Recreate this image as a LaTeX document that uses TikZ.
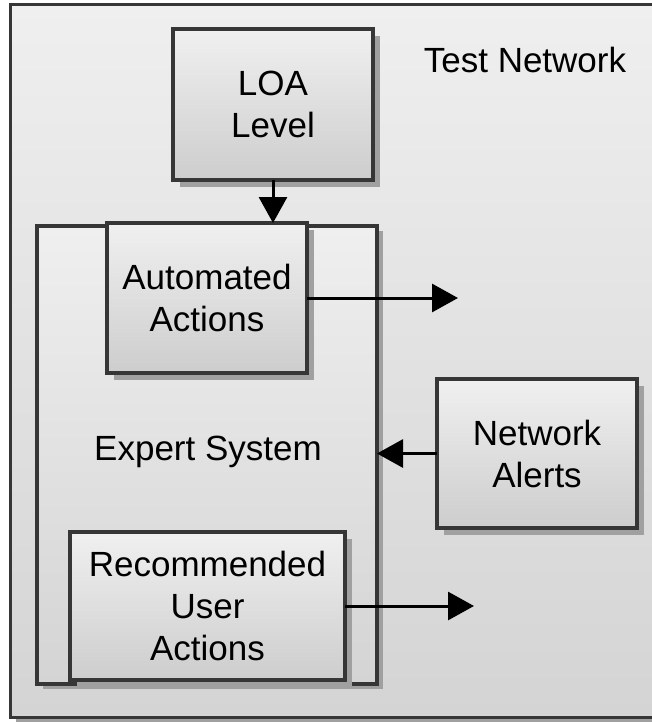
\documentclass[tikz,border=0pt]{standalone}
\usepackage{fontspec}
\setmainfont{Liberation Sans}
\usetikzlibrary{positioning, arrows.meta, shadows}

\definecolor{edgegray}{HTML}{363636}
\definecolor{shadegray}{HTML}{A0A0A0}
\definecolor{boxtop}{HTML}{F0F0F0}
\definecolor{boxbot}{HTML}{CDCDCD}
\definecolor{frametop}{HTML}{EFEFEF}
\definecolor{framebot}{HTML}{D4D4D4}

\begin{document}
\begin{tikzpicture}[x=1pt, y=-1pt,
    every node/.style={font=\fontsize{35}{42}\selectfont, align=center, inner sep=0pt, outer sep=0pt},
    frame/.style={draw=edgegray, line width=3pt, top color=frametop, bottom color=framebot,
        drop shadow={shadow xshift=6pt, shadow yshift=-5pt, fill=shadegray, opacity=1}},
    box/.style={draw=edgegray, line width=3.5pt, top color=boxtop, bottom color=boxbot,
        drop shadow={shadow xshift=7pt, shadow yshift=-7pt, fill=shadegray, opacity=1}},
    flow/.style={line width=3pt, -{Triangle[length=26pt, width=28pt]}}]
	\clip (0,0) rectangle (652,723);

	% outer frame and container
	\node[frame, minimum width=670pt, minimum height=713pt, anchor=north west] (net) at (10,4) {};
	\node (nettitle) at (525,60) {Test Network};
	\node[frame, line width=3.5pt, minimum width=340pt, minimum height=458pt, anchor=north west] (expert) at (37,226) {};
	\node (experttitle) at (208,452) {Expert System};

	% boxes
	\node[box, minimum width=200pt, minimum height=151pt] (loa) at (273,104.5) {LOA\\Level};
	\node[box, minimum width=200pt, minimum height=150pt] (auto) at (207,298) {Automated\\Actions};
	\node[box, minimum width=200pt, minimum height=149pt] (alerts) at (537,453.5) {Network\\Alerts};
	\node[box, minimum width=275pt, minimum height=148pt] (rec) at (207.5,606) {Recommended\\User\\Actions};

	% connectors
	\coordinate (autoout) at (458,298);
	\coordinate (recout) at (474,606);
	\draw[flow] (loa.south) -- (loa.south |- auto.north);
	\draw[flow] (auto.east) -- (autoout);
	\draw[flow] (alerts.west) -- (expert.east |- alerts.west);
	\draw[flow] (rec.east) -- (recout);
\end{tikzpicture}
\end{document}
